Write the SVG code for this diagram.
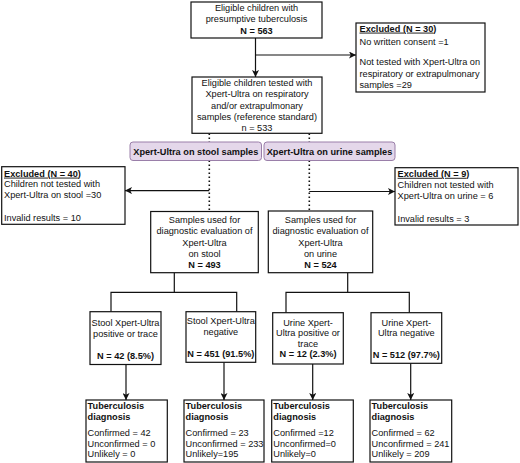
<svg xmlns="http://www.w3.org/2000/svg" width="520" height="463" viewBox="0 0 520 463">
<style>
text{font-family:"Liberation Sans",Arial,sans-serif;font-size:9.2px;fill:#111}
.c{text-anchor:middle}
.b{font-weight:bold}
.u{text-decoration:underline}
.box{fill:#fff;stroke:#111;stroke-width:1.2}
.pur{fill:#e4d7ea;stroke:#9a7fa9;stroke-width:1}
.ln{fill:none;stroke:#111;stroke-width:1.2}
.dot{fill:none;stroke:#111;stroke-width:1.6;stroke-dasharray:1.4 2.6}
</style>
<defs>
<marker id="ah" viewBox="0 0 8 8" refX="8" refY="4" markerWidth="7" markerHeight="7" markerUnits="userSpaceOnUse" orient="auto">
<path d="M0,0 L8,4 L0,8 L2,4 z" fill="#111"/>
</marker>
</defs>
<g id="connectors">
<path class="ln" d="M255.5,38 V77" marker-end="url(#ah)"/>
<path class="ln" d="M255.5,55 H356" marker-end="url(#ah)"/>
<path class="dot" d="M209.3,133.5 V142"/>
<path class="dot" d="M309.3,133.5 V142"/>
<path class="dot" d="M209.3,160.5 V211.5"/>
<path class="dot" d="M309.3,160.5 V211"/>
<path class="ln" d="M209.3,190.6 H125" marker-end="url(#ah)"/>
<path class="ln" d="M309.3,191.5 H395" marker-end="url(#ah)"/>
<path class="ln" d="M174.3,272.7 V292.3 M111,311.7 V292.3 H236.7 V311.7"/>
<path class="ln" d="M347.7,272.7 V292.3 M286,312.7 V292.3 H409.3 V312.7"/>
<path class="ln" d="M126,364.5 V400" marker-end="url(#ah)"/>
<path class="ln" d="M224,362.3 V400" marker-end="url(#ah)"/>
<path class="ln" d="M312.7,364 V400" marker-end="url(#ah)"/>
<path class="ln" d="M410.7,363.3 V400" marker-end="url(#ah)"/>
</g>
<g id="n-eligible">
<rect class="box" x="191" y="2" width="131" height="36"/>
<text class="c" x="256.5" y="10.6">Eligible children with</text>
<text class="c" x="256.5" y="22.3">presumptive tuberculosis</text>
<text class="c b" x="256.5" y="34">N = 563</text>
</g>
<g id="n-excluded30">
<rect class="box" x="356" y="23" width="129" height="69"/>
<text class="b" x="359.5" y="31.6"><tspan class="u">Excluded (N = 30</tspan>)</text>
<text x="359.5" y="44.6">No written consent =1</text>
<text x="359.5" y="65.3">Not tested with Xpert-Ultra on</text>
<text x="359.5" y="76.5">respiratory or extrapulmonary</text>
<text x="359.5" y="87.7">samples =29</text>
</g>
<g id="n-tested">
<rect class="box" x="192" y="77" width="130" height="56.3"/>
<text class="c" x="257" y="85.6">Eligible children tested with</text>
<text class="c" x="257" y="97.1">Xpert-Ultra on respiratory</text>
<text class="c" x="257" y="108.6">and/or extrapulmonary</text>
<text class="c" x="257" y="120.1">samples (reference standard)</text>
<text class="c" x="257" y="131.4">n = 533</text>
</g>
<g id="n-stool-label">
<rect class="pur" x="130" y="142" width="131.5" height="18.5" rx="3"/>
<text class="c b" x="195.8" y="154.8">Xpert-Ultra on stool samples</text>
</g>
<g id="n-urine-label">
<rect class="pur" x="264" y="142" width="131" height="18.5" rx="3"/>
<text class="c b" x="329.5" y="154.8">Xpert-Ultra on urine samples</text>
</g>
<g id="n-excluded40">
<rect class="box" x="1.7" y="166.7" width="123.3" height="57.6"/>
<text class="b" x="4" y="176.6"><tspan class="u">Excluded (N = 40</tspan>)</text>
<text x="4" y="187.4">Children not tested with</text>
<text x="4" y="198.4">Xpert-Ultra on stool =30</text>
<text x="4" y="220.6">Invalid results = 10</text>
</g>
<g id="n-excluded9">
<rect class="box" x="395" y="167.7" width="123" height="57.3"/>
<text class="b" x="397.6" y="176.8"><tspan class="u">Excluded (N = 9</tspan>)</text>
<text x="397.6" y="187.7">Children not tested with</text>
<text x="397.6" y="199">Xpert-Ultra on urine = 6</text>
<text x="397.6" y="222.2">Invalid results = 3</text>
</g>
<g id="n-stool-samples">
<rect class="box" x="150.7" y="211.5" width="107.6" height="61.2"/>
<text class="c" x="204.5" y="223.3">Samples used for</text>
<text class="c" x="204.5" y="234.3">diagnostic evaluation of</text>
<text class="c" x="204.5" y="245.5">Xpert-Ultra</text>
<text class="c" x="204.5" y="256.6">on stool</text>
<text class="c b" x="204.5" y="267.6">N = 493</text>
</g>
<g id="n-urine-samples">
<rect class="box" x="268.3" y="211" width="104.4" height="61.7"/>
<text class="c" x="320.5" y="223.3">Samples used for</text>
<text class="c" x="320.5" y="234.3">diagnostic evaluation of</text>
<text class="c" x="320.5" y="245.5">Xpert-Ultra</text>
<text class="c" x="320.5" y="256.6">on urine</text>
<text class="c b" x="320.5" y="267.6">N = 524</text>
</g>
<g id="n-stool-pos">
<rect class="box" x="90" y="311.7" width="71" height="52.8"/>
<text class="c" x="125.5" y="326">Stool Xpert-Ultra</text>
<text class="c" x="125.5" y="336.6">positive or trace</text>
<text class="c b" x="125.5" y="358.8">N = 42 (8.5%)</text>
</g>
<g id="n-stool-neg">
<rect class="box" x="186" y="311.7" width="69.7" height="50.6"/>
<text class="c" x="220.8" y="324">Stool Xpert-Ultra</text>
<text class="c" x="220.8" y="335">negative</text>
<text class="c b" x="220.8" y="356.6">N = 451 (91.5%)</text>
</g>
<g id="n-urine-pos">
<rect class="box" x="272.7" y="312.7" width="70.6" height="51.3"/>
<text class="c" x="308" y="326">Urine Xpert-</text>
<text class="c" x="308" y="336.3">Ultra positive or</text>
<text class="c" x="308" y="346.8">trace</text>
<text class="c b" x="308" y="357.3">N = 12 (2.3%)</text>
</g>
<g id="n-urine-neg">
<rect class="box" x="371" y="312.7" width="70.7" height="50.6"/>
<text class="c" x="406.3" y="326">Urine Xpert-</text>
<text class="c" x="406.3" y="336.3">Ultra negative</text>
<text class="c b" x="406.3" y="358.3">N = 512 (97.7%)</text>
</g>
<g id="n-dx1">
<rect class="box" x="86" y="400" width="81.3" height="62"/>
<text class="b" x="87.6" y="409">Tuberculosis</text>
<text class="b" x="87.6" y="419.8">diagnosis</text>
<text x="87.6" y="435.6">Confirmed = 42</text>
<text x="87.6" y="446.6">Unconfirmed = 0</text>
<text x="87.6" y="457.4">Unlikely = 0</text>
</g>
<g id="n-dx2">
<rect class="box" x="184" y="400" width="80" height="62"/>
<text class="b" x="185.6" y="409">Tuberculosis</text>
<text class="b" x="185.6" y="419.8">diagnosis</text>
<text x="185.6" y="435.6">Confirmed = 23</text>
<text x="185.6" y="446.6">Unconfirmed = 233</text>
<text x="185.6" y="457.4">Unlikely=195</text>
</g>
<g id="n-dx3">
<rect class="box" x="271.7" y="400" width="81.6" height="62"/>
<text class="b" x="273.3" y="409">Tuberculosis</text>
<text class="b" x="273.3" y="419.8">diagnosis</text>
<text x="273.3" y="435.6">Confirmed =12</text>
<text x="273.3" y="446.6">Unconfirmed=0</text>
<text x="273.3" y="457.4">Unlikely=0</text>
</g>
<g id="n-dx4">
<rect class="box" x="370" y="400" width="81.7" height="62"/>
<text class="b" x="371.6" y="409">Tuberculosis</text>
<text class="b" x="371.6" y="419.8">diagnosis</text>
<text x="371.6" y="435.6">Confirmed = 62</text>
<text x="371.6" y="446.6">Unconfirmed = 241</text>
<text x="371.6" y="457.4">Unlikely = 209</text>
</g>
</svg>
